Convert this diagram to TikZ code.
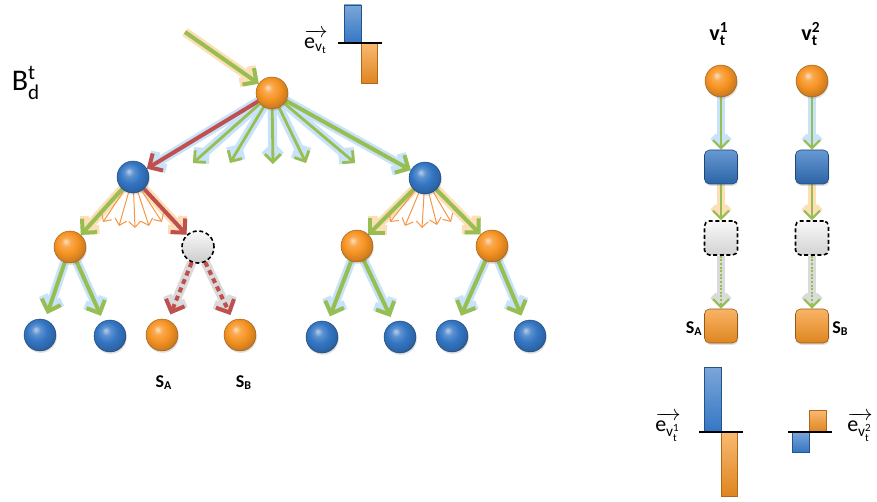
\documentclass[tikz,border=0pt]{standalone}
\usepackage{amsmath}
\usepackage{fontspec}
\setmainfont{Carlito}
\usetikzlibrary{arrows.meta,shadows,backgrounds}
\definecolor{orangeC}{RGB}{247,148,36}
\definecolor{blueC}{RGB}{52,118,196}
\definecolor{greenC}{RGB}{150,190,80}
\definecolor{redC}{RGB}{192,80,77}
\definecolor{glowB}{RGB}{200,226,250}
\definecolor{glowO}{RGB}{253,222,182}
\definecolor{glowG}{RGB}{218,218,218}
\definecolor{fanC}{RGB}{245,150,70}
\pgfdeclareradialshading{myballO}{\pgfqpoint{-7bp}{9bp}}{color(0bp)=(orangeC!30!white); color(7bp)=(orangeC!80!white); color(16bp)=(orangeC); color(26bp)=(orangeC!85!black); color(34bp)=(orangeC!65!black); color(50bp)=(orangeC!65!black)}
\pgfdeclareradialshading{myballB}{\pgfqpoint{-7bp}{9bp}}{color(0bp)=(blueC!35!white); color(7bp)=(blueC!80!white); color(16bp)=(blueC); color(26bp)=(blueC!85!black); color(34bp)=(blueC!60!black); color(50bp)=(blueC!60!black)}
\begin{document}
\begin{tikzpicture}[x=0.5pt,y=-0.5pt,
  shad/.style={drop shadow={shadow xshift=0.4pt,shadow yshift=-0.9pt,opacity=0.25}},
  ballO/.style={circle,minimum size=16pt,inner sep=0pt,shading=myballO,draw=orangeC!60!black,line width=0.2pt,shad},
  ballB/.style={circle,minimum size=16pt,inner sep=0pt,shading=myballB,draw=blueC!55!black,line width=0.2pt,shad},
  ballGray/.style={circle,minimum size=16pt,inner sep=0pt,top color=gray!5,bottom color=gray!40,draw=black,line width=0.8pt,dash pattern=on 2pt off 1.3pt},
  sqB/.style={rectangle,rounded corners=2.5pt,minimum width=16.5pt,minimum height=17pt,inner sep=0pt,top color=blueC!75!white,bottom color=blueC!85!black,draw=blueC!60!black,line width=0.3pt,shad},
  sqO/.style={rectangle,rounded corners=2.5pt,minimum width=16.5pt,minimum height=17pt,inner sep=0pt,top color=orangeC!70!white,bottom color=orangeC!90!black,draw=orangeC!60!black,line width=0.3pt,shad},
  sqGray/.style={rectangle,rounded corners=2.5pt,minimum width=16.5pt,minimum height=17pt,inner sep=0pt,top color=gray!5,bottom color=gray!35,draw=black,line width=0.8pt,dash pattern=on 2pt off 1.3pt},
  gthick/.style={draw=greenC,line width=2pt,-{Straight Barb[length=5pt,width=10pt]}},
  rthick/.style={draw=redC,line width=2pt,-{Straight Barb[length=5pt,width=10pt]}},
  gmed/.style={draw=greenC,line width=1.4pt,-{Straight Barb[length=4pt,width=8pt]}},
  gthin/.style={draw=greenC,line width=1.1pt,-{Straight Barb[length=4pt,width=8pt]}},
  fanO/.style={draw=fanC,line width=0.5pt,-{Straight Barb[length=3pt,width=6pt]}},
  rdot/.style={rthick,dash pattern=on 2.5pt off 2pt},
  gdot/.style={gthin,dash pattern=on 1pt off 0.8pt},
  glB/.style={draw=glowB,line width=4.6pt},
  glO/.style={draw=glowO,line width=4.6pt},
  glG/.style={draw=glowG,line width=4.6pt},
  glBs/.style={draw=glowB,line width=3.8pt},
  glOs/.style={draw=glowO,line width=3.8pt},
  glGs/.style={draw=glowG,line width=3.8pt},
  barB/.style={top color=blueC!65!white,bottom color=blueC,draw=blueC!70!black,line width=0.4pt},
  barO/.style={top color=orangeC!65!white,bottom color=orangeC!90!black,draw=orangeC!70!black,line width=0.4pt},
  lbl/.style={inner sep=0pt}
]
\useasboundingbox (0,0) rectangle (877,502);

% ---- tree nodes
\node[ballO] (r) at (272,93) {};
\node[ballB] (a1) at (133,177) {};
\node[ballB] (a2) at (425,178) {};
\node[ballO] (b1) at (70,247) {};
\node[ballGray] (b2) at (198,247) {};
\node[ballO] (b3) at (357,246) {};
\node[ballO] (b4) at (492,246) {};
\node[ballB] (c1) at (40,335) {};
\node[ballB] (c2) at (110,336) {};
\node[ballO] (c3) at (162,335) {};
\node[ballO] (c4) at (240,335) {};
\node[ballB] (c5) at (322,337) {};
\node[ballB] (c6) at (400,337) {};
\node[ballB] (c7) at (452,336) {};
\node[ballB] (c8) at (530,336) {};

\coordinate (in) at (185,32);
\coordinate (f1) at (193,163);
\coordinate (f2) at (230,163);
\coordinate (f3) at (273,164);
\coordinate (f4) at (306,163);
\coordinate (f5) at (355,163);
\coordinate (g1) at (103,222);
\coordinate (g2) at (119,226);
\coordinate (g3) at (135,228);
\coordinate (g4) at (149,226);
\coordinate (g5) at (162,222);
\coordinate (h1) at (390,222);
\coordinate (h2) at (405,226);
\coordinate (h3) at (422,228);
\coordinate (h4) at (437,225);
\coordinate (h5) at (451,222);

% ---- right column nodes
\node[ballO] (o1) at (721,81) {};
\node[ballO] (o2) at (812,81) {};
\node[sqB] (q1) at (721,167) {};
\node[sqB] (q2) at (812,167) {};
\node[sqGray] (d1) at (721,238) {};
\node[sqGray] (d2) at (812,238) {};
\node[sqO] (s1) at (721,326) {};
\node[sqO] (s2) at (812,326) {};

\begin{scope}[on background layer]
  % glows
  \draw[gthick,glO] (in) -- (r);
  \draw[rthick,glB] (r) -- (a1);
  \draw[gthick,glB] (r) -- (a2);
  \foreach \f in {f1,f2,f3,f4,f5} \draw[gmed,glB] (r) -- (\f);
  \draw[gthick,glO] (a1) -- (b1);
  \draw[rthick,glO] (a1) -- (b2);
  \draw[gthick,glO] (a2) -- (b3);
  \draw[gthick,glO] (a2) -- (b4);
  \foreach \s/\t in {b1/c1,b1/c2,b3/c5,b3/c6,b4/c7,b4/c8}
    \draw[gthick,glB,shorten >=3pt] (\s) -- (\t);
  \foreach \t in {c3,c4} \draw[rthick,glG,shorten >=3pt] (b2) -- (\t);
  \draw[gthin,glBs] (o1) -- (q1);
  \draw[gthin,glBs] (o2) -- (q2);
  \draw[gthin,glOs] (q1) -- (d1);
  \draw[gthin,glOs] (q2) -- (d2);
  \draw[gthin,glGs] (d1) -- (s1);
  \draw[gthin,glGs] (d2) -- (s2);
  % arrows
  \draw[gthick] (in) -- (r);
  \draw[rthick] (r) -- (a1);
  \draw[gthick] (r) -- (a2);
  \foreach \f in {f1,f2,f3,f4,f5} \draw[gmed] (r) -- (\f);
  \draw[gthick] (a1) -- (b1);
  \draw[rthick] (a1) -- (b2);
  \draw[gthick] (a2) -- (b3);
  \draw[gthick] (a2) -- (b4);
  \foreach \g in {g1,g2,g3,g4,g5} \draw[fanO] (a1) -- (\g);
  \foreach \h in {h1,h2,h3,h4,h5} \draw[fanO] (a2) -- (\h);
  \foreach \s/\t in {b1/c1,b1/c2,b3/c5,b3/c6,b4/c7,b4/c8}
    \draw[gthick,shorten >=3pt] (\s) -- (\t);
  \foreach \t in {c3,c4} \draw[rdot,shorten >=3pt] (b2) -- (\t);
  \draw[gthin] (o1) -- (q1);
  \draw[gthin] (o2) -- (q2);
  \draw[gthin] (q1) -- (d1);
  \draw[gthin] (q2) -- (d2);
  \draw[gdot] (d1) -- (s1);
  \draw[gdot] (d2) -- (s2);
\end{scope}

% ---- labels
\node[lbl,font=\fontsize{15}{17}\selectfont] (B) at (26,83) {B$^{\text{t}}_{\text{d}}$};
\node[lbl,font=\bfseries\fontsize{9}{11}\selectfont] (la) at (164,383) {S$_{\text{A}}$};
\node[lbl,font=\bfseries\fontsize{9}{11}\selectfont] (lb) at (244,383) {S$_{\text{B}}$};
\node[lbl,font=\bfseries\fontsize{11}{13}\selectfont] (v1) at (719,34) {v$^{\text{1}}_{\text{t}}$};
\node[lbl,font=\bfseries\fontsize{11}{13}\selectfont] (v2) at (811,34) {v$^{\text{2}}_{\text{t}}$};
\node[lbl,font=\bfseries\fontsize{9}{11}\selectfont,anchor=east] (sa) at (703,329) {S$_{\text{A}}$};
\node[lbl,font=\bfseries\fontsize{9}{11}\selectfont,anchor=west] (sb) at (832,329) {S$_{\text{B}}$};
\node[lbl,font=\fontsize{11}{13}\selectfont] (e0) at (316,42) {$\overrightarrow{\text{e}_{\text{v}_{\text{t}}}}$};
\node[lbl,font=\fontsize{11}{13}\selectfont] (e1) at (668,427) {$\overrightarrow{\text{e}_{\text{v}^{\text{1}}_{\text{t}}}}$};
\node[lbl,font=\fontsize{11}{13}\selectfont] (e2) at (860,427) {$\overrightarrow{\text{e}_{\text{v}^{\text{2}}_{\text{t}}}}$};

% ---- bar charts
\draw[barB] (344,5) rectangle (361,43);
\draw[barO] (361,43) rectangle (377,83);
\draw[black,line width=0.6pt] (338,43) -- (382,43);

\draw[barB] (704,367) rectangle (721,432);
\draw[barO] (721,432) rectangle (737,496);
\draw[black,line width=0.6pt] (699,432) -- (743,432);

\draw[barB] (792,432) rectangle (809,452);
\draw[barO] (809,410) rectangle (826,432);
\draw[black,line width=0.6pt] (788,432) -- (832,432);
\end{tikzpicture}
\end{document}
